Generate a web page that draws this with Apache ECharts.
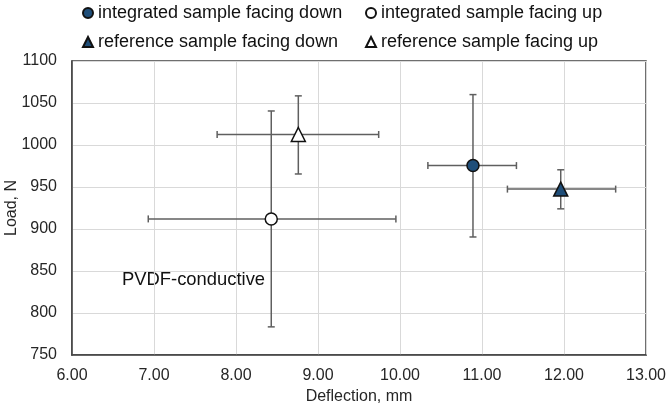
<!DOCTYPE html>
<html>
<head>
<meta charset="utf-8">
<script src="https://cdn.jsdelivr.net/npm/echarts@6/dist/echarts.min.js"></script>
<style>html,body{margin:0;padding:0;background:#fff}#c{width:666px;height:408px}</style>
</head>
<body>
<div id="c"></div>
<script>
// ---- data ----
const seriesNames = ['integrated sample facing down', 'integrated sample facing up', 'reference sample facing down', 'reference sample facing up'];
const deflection = [10.89, 8.43, 11.96, 8.76];      // mm
const load = [975.5, 912, 947.5, 1012.5];            // N
const deflLow = [10.34, 6.93, 11.31, 7.77];
const deflHigh = [11.42, 9.95, 12.63, 9.74];
const loadLow = [890.5, 783.5, 924, 965.5];
const loadHigh = [1060, 1040.5, 970.5, 1058.5];
const xTicks = [6, 7, 8, 9, 10, 11, 12, 13];
const yTicks = [750, 800, 850, 900, 950, 1000, 1050, 1100];
const annotation = 'PVDF-conductive';

const FONT = '"Liberation Sans", Arial, sans-serif';
const TXT = '#262626';
const fills = ['#1F4E79', '#ffffff', '#1F4E79', '#ffffff'];
const symbols = ['circle', 'circle', 'triangle', 'triangle'];
const sizes = [12, 12, 14, 14];

const chart = echarts.init(document.getElementById('c'), null, {renderer: 'canvas'});

const errData = deflection.map((x, i) => [x, load[i], deflLow[i], deflHigh[i], loadLow[i], loadHigh[i]]);

const series = [{
  type: 'custom',
  name: 'errors',
  z: 3,
  silent: true,
  data: errData,
  renderItem: function (params, api) {
    const x = api.value(0), y = api.value(1);
    const xl = api.coord([api.value(2), y]);
    const xh = api.coord([api.value(3), y]);
    const yl = api.coord([x, api.value(4)]);
    const yh = api.coord([x, api.value(5)]);
    const cap = 3.5;
    const st = {stroke: '#5f5f5f', lineWidth: 1.5};
    const ln = (x1, y1, x2, y2) => ({type: 'line', shape: {x1, y1, x2, y2}, style: st});
    return {type: 'group', children: [
      ln(xl[0], xl[1], xh[0], xh[1]),
      ln(xl[0], xl[1] - cap, xl[0], xl[1] + cap),
      ln(xh[0], xh[1] - cap, xh[0], xh[1] + cap),
      ln(yl[0], yl[1], yh[0], yh[1]),
      ln(yl[0] - cap, yl[1], yl[0] + cap, yl[1]),
      ln(yh[0] - cap, yh[1], yh[0] + cap, yh[1])
    ]};
  }
}];
seriesNames.forEach((n, i) => {
  series.push({
    type: 'scatter',
    name: n,
    z: 5,
    symbol: symbols[i],
    symbolSize: sizes[i],
    itemStyle: {color: fills[i], borderColor: '#111', borderWidth: 1.5, opacity: 1},
    data: [[deflection[i], load[i]]]
  });
});

const legendPos = [[82, 4], [365, 4], [82, 33], [365, 33]];
const legends = seriesNames.map((n, i) => ({
  data: [n],
  left: legendPos[i][0], top: legendPos[i][1],
  padding: 0,
  itemWidth: 10, itemHeight: 10,
  selectedMode: false,
  textStyle: {fontFamily: FONT, fontSize: 18, color: '#111'}
}));

chart.setOption({
  animation: false,
  backgroundColor: '#fff',
  legend: legends,
  grid: {left: 72, right: 20, top: 61, bottom: 53, containLabel: false, outerBoundsMode: 'none',
         show: true, borderColor: '#404040', borderWidth: 1.5, backgroundColor: 'transparent'},
  xAxis: {
    type: 'value', min: xTicks[0], max: xTicks[xTicks.length - 1], interval: 1,
    name: 'Deflection, mm', nameLocation: 'middle', nameGap: 34, nameMoveOverlap: false,
    nameTextStyle: {fontFamily: FONT, fontSize: 16, color: TXT},
    axisLine: {show: true, lineStyle: {color: '#404040', width: 1.5}},
    axisTick: {show: false},
    axisLabel: {fontFamily: FONT, fontSize: 16, color: TXT, margin: 13, formatter: v => v.toFixed(2)},
    splitLine: {show: true, lineStyle: {color: '#d9d9d9', width: 1}}
  },
  yAxis: {
    type: 'value', min: yTicks[0], max: yTicks[yTicks.length - 1], interval: 50,
    name: 'Load, N', nameLocation: 'middle', nameGap: 52, nameMoveOverlap: false,
    nameTextStyle: {fontFamily: FONT, fontSize: 16, color: TXT},
    axisLine: {show: true, lineStyle: {color: '#404040', width: 1.5}},
    axisTick: {show: false},
    axisLabel: {fontFamily: FONT, fontSize: 16, color: TXT, margin: 15, formatter: v => String(v)},
    splitLine: {show: true, lineStyle: {color: '#d9d9d9', width: 1}}
  },
  graphic: [{
    type: 'group', left: 121, top: 258, z: 1,
    children: [
      {type: 'rect', shape: {x: 0, y: 0, width: 149, height: 56}, style: {fill: '#fff'}},
      {type: 'text', x: 1, y: 22, style: {text: annotation, font: '18.4px ' + FONT, fill: '#111', textVerticalAlign: 'middle'}}
    ]
  }],
  series: series
});
</script>
</body>
</html>
